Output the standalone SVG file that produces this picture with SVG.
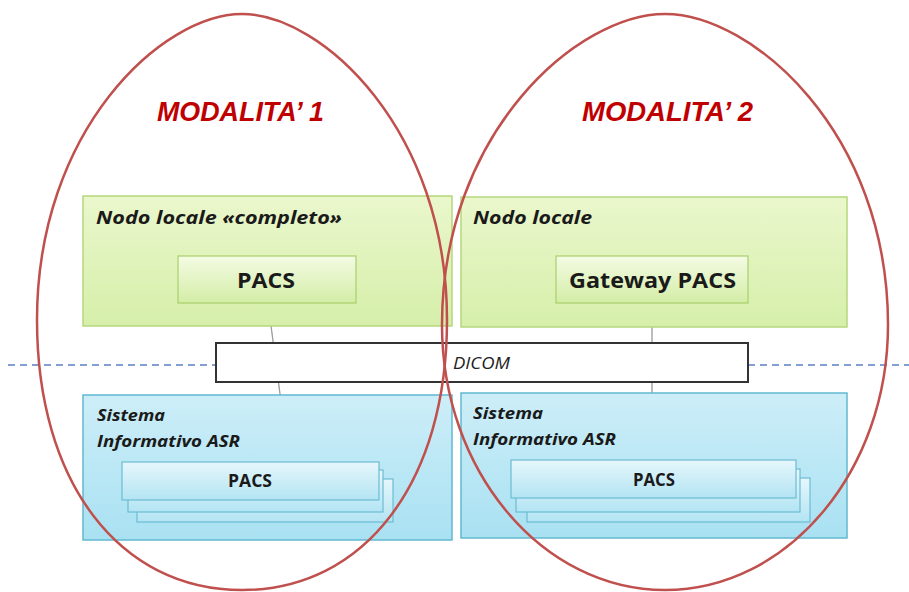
<svg xmlns="http://www.w3.org/2000/svg" width="909" height="592" viewBox="0 0 909 592">
<defs>
<linearGradient id="gGreen" x1="0" y1="0" x2="0" y2="1"><stop offset="0" stop-color="#eaf7cc"/><stop offset="1" stop-color="#d6efaa"/></linearGradient>
<linearGradient id="gGreenIn" x1="0" y1="0" x2="0" y2="1"><stop offset="0" stop-color="#f4fbe4"/><stop offset="1" stop-color="#d3eda6"/></linearGradient>
<linearGradient id="gBlue" x1="0" y1="0" x2="0" y2="1"><stop offset="0" stop-color="#cdeef8"/><stop offset="1" stop-color="#a9e1f2"/></linearGradient>
<linearGradient id="gBlueIn" x1="0" y1="0" x2="0" y2="1"><stop offset="0" stop-color="#e6f7fc"/><stop offset="1" stop-color="#b3e4f3"/></linearGradient>
</defs>
<style>
.green{fill:url(#gGreen);stroke:#b5d77c;stroke-width:1.5}
.greenIn{fill:url(#gGreenIn);stroke:#a9cf6c;stroke-width:1.2}
.blue{fill:url(#gBlue);stroke:#62b8d0;stroke-width:1.5}
.blueIn{fill:url(#gBlueIn);stroke:#6cbcd3;stroke-width:1.2}
.title{font-family:"Liberation Sans",Arial,sans-serif;font-weight:bold;font-style:italic;fill:#c00000;font-size:28px}
.lbl{font-family:"Open Sans","Liberation Sans",sans-serif;font-weight:bold;font-style:italic;fill:#1a1a1a}
.box{font-family:"Open Sans","Liberation Sans",sans-serif;font-weight:bold;fill:#1a1a1a}
.conn{stroke:#9a9a9a;stroke-width:1.3;fill:none}
.oval{fill:none;stroke:#c0504d;stroke-width:2.5}
</style>
<g id="connectors">
<line x1="8" y1="365" x2="216" y2="365" stroke="#5b7fc4" stroke-width="1.5" stroke-dasharray="7,5"/>
<line x1="748" y1="365" x2="909" y2="365" stroke="#5b7fc4" stroke-width="1.5" stroke-dasharray="7,5"/>
<line class="conn" x1="268" y1="303" x2="289" y2="462"/>
<line class="conn" x1="652" y1="303" x2="652" y2="460"/>
</g>
<g id="nodo-completo">
<rect class="green" x="83" y="196" width="369" height="130"/>
<text class="lbl" x="96" y="224" font-size="18" textLength="246" lengthAdjust="spacingAndGlyphs">Nodo locale «completo»</text>
</g>
<g id="pacs-1">
<rect class="greenIn" x="178" y="256" width="178" height="47"/>
<text class="box" x="237" y="288" font-size="22" textLength="58" lengthAdjust="spacingAndGlyphs">PACS</text>
</g>
<g id="nodo-locale">
<rect class="green" x="461" y="197" width="386" height="130"/>
<text class="lbl" x="473" y="224" font-size="18" textLength="119" lengthAdjust="spacingAndGlyphs">Nodo locale</text>
</g>
<g id="gateway-pacs">
<rect class="greenIn" x="556" y="256" width="192" height="47"/>
<text class="box" x="569" y="288" font-size="22" textLength="167" lengthAdjust="spacingAndGlyphs">Gateway PACS</text>
</g>
<g id="dicom">
<rect x="216" y="343" width="532" height="39" fill="#ffffff" stroke="#333333" stroke-width="2"/>
<text x="453" y="369" font-family="'Open Sans','Liberation Sans',sans-serif" font-style="italic" font-size="17" fill="#222" textLength="57" lengthAdjust="spacingAndGlyphs">DICOM</text>
</g>
<g id="sistema-1">
<rect class="blue" x="83" y="395" width="369" height="145"/>
<text class="lbl" x="97" y="421" font-size="16" textLength="68" lengthAdjust="spacingAndGlyphs">Sistema</text>
<text class="lbl" x="97" y="447" font-size="16" textLength="143" lengthAdjust="spacingAndGlyphs">Informativo ASR</text>
</g>
<g id="pacs-stack-1">
<rect class="blueIn" x="137" y="479" width="256" height="43"/>
<rect class="blueIn" x="128" y="470" width="255" height="42"/>
<rect class="blueIn" x="122" y="462" width="257" height="38"/>
<text class="box" x="228" y="487" font-size="17" textLength="44" lengthAdjust="spacingAndGlyphs">PACS</text>
</g>
<g id="sistema-2">
<rect class="blue" x="461" y="393" width="386" height="145"/>
<text class="lbl" x="473" y="419" font-size="16" textLength="70" lengthAdjust="spacingAndGlyphs">Sistema</text>
<text class="lbl" x="473" y="445" font-size="16" textLength="143" lengthAdjust="spacingAndGlyphs">Informativo ASR</text>
</g>
<g id="pacs-stack-2">
<rect class="blueIn" x="527" y="478" width="283" height="44"/>
<rect class="blueIn" x="516" y="469" width="284" height="43"/>
<rect class="blueIn" x="511" y="460" width="285" height="38"/>
<text class="box" x="633" y="486" font-size="17" textLength="42" lengthAdjust="spacingAndGlyphs">PACS</text>
</g>
<g id="modalita-1">
<path class="oval" d="M 242,14 C 162,14 37,130 37,320 C 37,482 119,590 242,590 C 365,590 447,482 447,320 C 447,130 322,14 242,14 Z"/>
<text class="title" x="157" y="121" textLength="167" lengthAdjust="spacingAndGlyphs">MODALITA’ 1</text>
</g>
<g id="modalita-2">
<path class="oval" d="M 665,14 C 578,14 442,132 442,325 C 442,471 542,590 665,590 C 788,590 888,471 888,325 C 888,132 752,14 665,14 Z"/>
<text class="title" x="582" y="121" textLength="171" lengthAdjust="spacingAndGlyphs">MODALITA’ 2</text>
</g>
</svg>
